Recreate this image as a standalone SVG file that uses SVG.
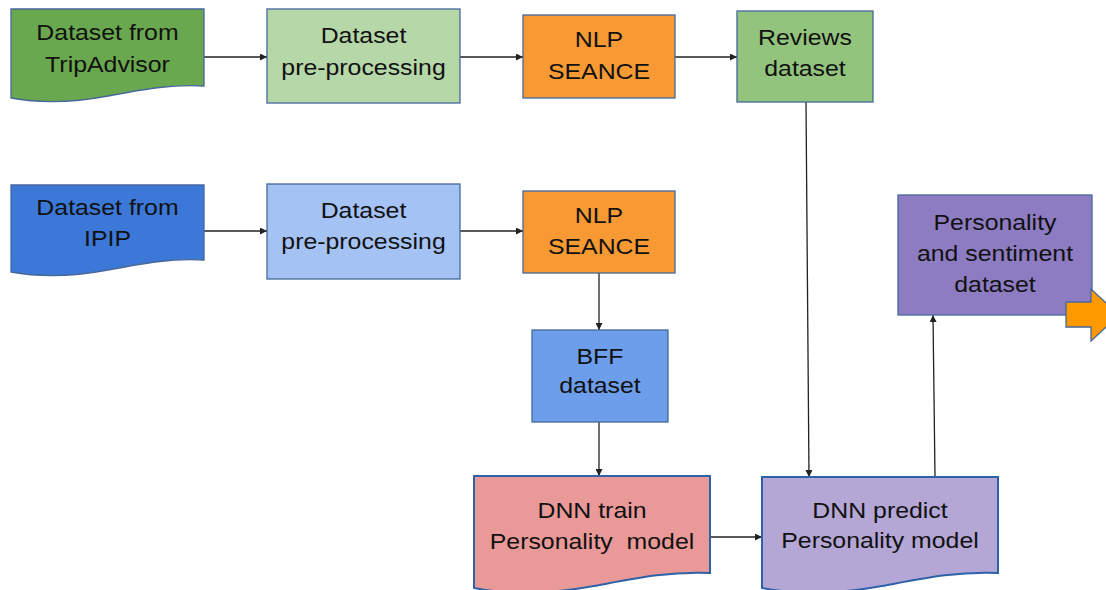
<svg xmlns="http://www.w3.org/2000/svg" width="1106" height="590" viewBox="0 0 1106 590">
  <defs>
    <marker id="arrow" viewBox="0 0 10 10" refX="10" refY="5" markerWidth="7" markerHeight="7" markerUnits="userSpaceOnUse" orient="auto">
      <path d="M0,0 L10,5 L0,10 Z" fill="#222"/>
    </marker>
    <style>
      .box { stroke: #46679a; stroke-width: 1.3; }
      .doc { stroke: #46679a; stroke-width: 1.3; }
      .dnn { stroke: #2f62a8; stroke-width: 2; }
      .lbl { font-family: "Liberation Sans", Arial, sans-serif; font-size: 22px; fill: #111; text-anchor: middle; white-space: pre; }
      .edge { stroke: #222; stroke-width: 1.3; fill: none; marker-end: url(#arrow); }
    </style>
  </defs>
  <rect width="1106" height="590" fill="#ffffff"/>

  <!-- connectors -->
  <g id="connectors">
    <line class="edge" x1="204" y1="57" x2="267" y2="57"/>
    <line class="edge" x1="460" y1="57" x2="523" y2="57"/>
    <line class="edge" x1="675" y1="57" x2="737" y2="57"/>
    <line class="edge" x1="204" y1="231" x2="267" y2="231"/>
    <line class="edge" x1="460" y1="231" x2="523" y2="231"/>
    <line class="edge" x1="599" y1="273" x2="599" y2="330"/>
    <line class="edge" x1="599" y1="422" x2="599" y2="476"/>
    <line class="edge" x1="710" y1="537" x2="762" y2="537"/>
    <line class="edge" x1="806" y1="102" x2="809" y2="477"/>
    <line class="edge" x1="935" y1="477" x2="933" y2="315"/>
  </g>

  <!-- Dataset from TripAdvisor -->
  <g id="src-tripadvisor">
    <path class="doc" fill="#6aa84f" d="M11,9 H204 V86 C170,84 140,90 108,96 C76,102 44,104 11,98 Z"/>
    <g transform="translate(107.5,0) scale(1.13,1)">
      <text class="lbl" x="0" y="40">Dataset from</text>
      <text class="lbl" x="0" y="72">TripAdvisor</text>
    </g>
  </g>

  <!-- Dataset pre-processing (reviews) -->
  <g id="prep-reviews">
    <rect class="box" x="267" y="9" width="193" height="94" fill="#b6d7a8"/>
    <g transform="translate(363.5,0) scale(1.13,1)">
      <text class="lbl" x="0" y="43">Dataset</text>
      <text class="lbl" x="0" y="75">pre-processing</text>
    </g>
  </g>

  <!-- NLP SEANCE (reviews) -->
  <g id="seance-reviews">
    <rect class="box" x="523" y="15" width="152" height="83" fill="#f79a34"/>
    <g transform="translate(599,0) scale(1.13,1)">
      <text class="lbl" x="0" y="47">NLP</text>
      <text class="lbl" x="0" y="79">SEANCE</text>
    </g>
  </g>

  <!-- Reviews dataset -->
  <g id="reviews-dataset">
    <rect class="box" x="737" y="11" width="136" height="91" fill="#93c47d"/>
    <g transform="translate(805,0) scale(1.13,1)">
      <text class="lbl" x="0" y="45">Reviews</text>
      <text class="lbl" x="0" y="76">dataset</text>
    </g>
  </g>

  <!-- Dataset from IPIP -->
  <g id="src-ipip">
    <path class="doc" fill="#3c78d8" d="M11,185 H204 V260 C170,258 140,264 108,270 C76,276 44,278 11,272 Z"/>
    <g transform="translate(107.5,0) scale(1.13,1)">
      <text class="lbl" x="0" y="215">Dataset from</text>
      <text class="lbl" x="0" y="246">IPIP</text>
    </g>
  </g>

  <!-- Dataset pre-processing (IPIP) -->
  <g id="prep-ipip">
    <rect class="box" x="267" y="184" width="193" height="95" fill="#a4c2f4"/>
    <g transform="translate(363.5,0) scale(1.13,1)">
      <text class="lbl" x="0" y="218">Dataset</text>
      <text class="lbl" x="0" y="249">pre-processing</text>
    </g>
  </g>

  <!-- NLP SEANCE (IPIP) -->
  <g id="seance-ipip">
    <rect class="box" x="523" y="191" width="152" height="82" fill="#f79a34"/>
    <g transform="translate(599,0) scale(1.13,1)">
      <text class="lbl" x="0" y="223">NLP</text>
      <text class="lbl" x="0" y="254">SEANCE</text>
    </g>
  </g>

  <!-- BFF dataset -->
  <g id="bff-dataset">
    <rect class="box" x="532" y="330" width="136" height="92" fill="#6d9eeb"/>
    <g transform="translate(600,0) scale(1.13,1)">
      <text class="lbl" x="0" y="364">BFF</text>
      <text class="lbl" x="0" y="393">dataset</text>
    </g>
  </g>

  <!-- DNN train -->
  <g id="dnn-train">
    <path class="dnn" fill="#ea9999" d="M474,476 H710 V573 C668,571 632,579 594,586 C556,593 516,596 474,588 Z"/>
    <g transform="translate(592,0) scale(1.13,1)">
      <text class="lbl" x="0" y="518">DNN train</text>
      <text class="lbl" x="0" y="549">Personality  model</text>
    </g>
  </g>

  <!-- DNN predict -->
  <g id="dnn-predict">
    <path class="dnn" fill="#b4a7d6" d="M762,477 H998 V573 C956,571 920,579 882,586 C844,593 804,596 762,588 Z"/>
    <g transform="translate(880,0) scale(1.13,1)">
      <text class="lbl" x="0" y="518">DNN predict</text>
      <text class="lbl" x="0" y="548">Personality model</text>
    </g>
  </g>

  <!-- Personality and sentiment dataset -->
  <g id="personality-sentiment">
    <rect class="box" x="898" y="195" width="194" height="120" fill="#8e7cc3"/>
    <g transform="translate(995,0) scale(1.13,1)">
      <text class="lbl" x="0" y="230">Personality</text>
      <text class="lbl" x="0" y="261">and sentiment</text>
      <text class="lbl" x="0" y="292">dataset</text>
    </g>
  </g>

  <!-- outgoing block arrow -->
  <g id="output-arrow">
    <path class="box" fill="#ff9900" d="M1066,302 H1091 V289 L1119,315 L1091,341 V327 H1066 Z"/>
  </g>
</svg>
